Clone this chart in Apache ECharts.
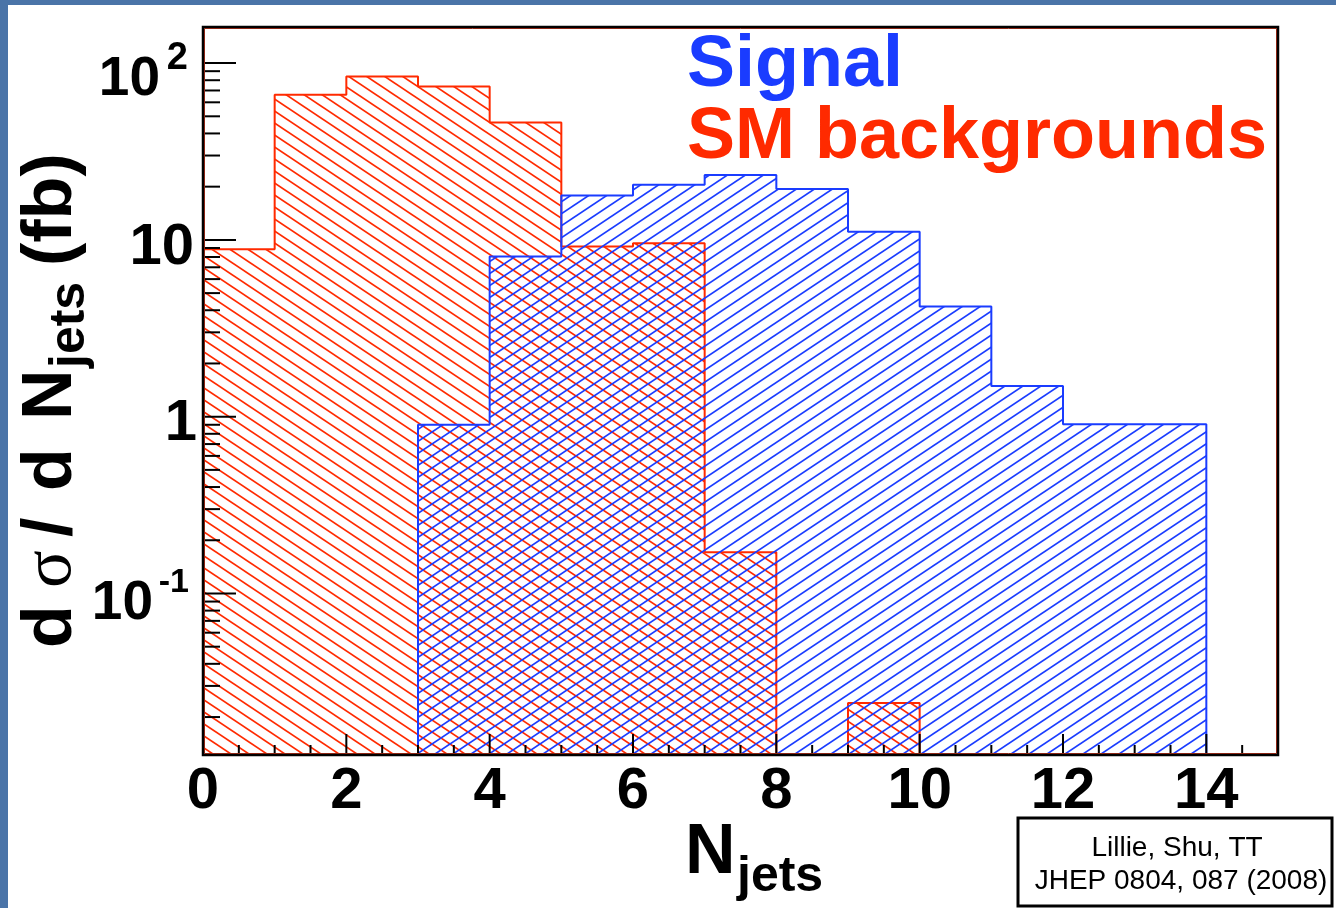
<!DOCTYPE html>
<html>
<head>
<meta charset="utf-8">
<script src="https://cdn.jsdelivr.net/npm/echarts@6/dist/echarts.min.js"></script>
<style>
html,body{margin:0;padding:0;background:#fff;}
#chart{width:1336px;height:908px;}
</style>
</head>
<body>
<div id="chart"></div>
<script>
// ---------------- data ----------------
const binEdges = [0,1,2,3,4,5,6,7,8,9,10,11,12,13,14,15];
const signalValues = [0, 0, 0, 0.90, 8.05, 17.8, 20.5, 23.3, 19.4, 11.1, 4.2, 1.49, 0.906, 0.906, 0];
const backgroundValues = [8.86, 66.2, 84.0, 73.8, 46.1, 9.17, 9.58, 0.171, 0, 0.024, 0, 0, 0, 0, 0];
const seriesNames = ['Signal', 'SM backgrounds'];

const xMajorTicks = [0, 2, 4, 6, 8, 10, 12, 14];
const xMinorTicks = [0.5, 1, 1.5, 2.5, 3, 3.5, 4.5, 5, 5.5, 6.5, 7, 7.5, 8.5, 9, 9.5, 10.5, 11, 11.5, 12.5, 13, 13.5, 14.5];
const yMajorTicks = [0.1, 1, 10, 100];
const yLabelBase = ['10', '1', '10', '10'];
const yLabelExp = ['-1', '', '', '2'];
const yMinorMantissas = [2, 3, 4, 5, 6, 7, 8, 9];
const yMinorDecades = [0.01, 0.1, 1, 10];

const xMin = 0, xMax = 15, yMin = 0.0122, yMax = 160;

// ---------------- styling ----------------
const BLUE = '#1a3cff';
const RED = '#ff2a00';
const FONT = "'Liberation Sans', Arial, Helvetica, sans-serif";
const GRID = {left: 203, top: 27, right: 58, bottom: 153};

function hatchCanvas(color, dir) {
  const W = 18, H = 12;
  const c = document.createElement('canvas');
  c.width = W; c.height = H;
  const ctx = c.getContext('2d');
  ctx.strokeStyle = color;
  ctx.lineWidth = 1.7;
  for (let k = -1; k <= 1; k++) {
    ctx.beginPath();
    if (dir > 0) {
      ctx.moveTo(-W, (k + 2) * H);
      ctx.lineTo(2 * W, (k - 1) * H);
    } else {
      ctx.moveTo(-W, (k - 1) * H);
      ctx.lineTo(2 * W, (k + 2) * H);
    }
    ctx.stroke();
  }
  return c;
}

function stepPoints(vals) {
  const floor = v => (v > 0 ? v : yMin);
  const pts = [[binEdges[0], yMin]];
  vals.forEach((v, i) => pts.push([binEdges[i], floor(v)]));
  const last = binEdges[binEdges.length - 1];
  pts.push([last, floor(vals[vals.length - 1])]);
  pts.push([last, yMin]);
  return pts;
}

const yMinorTicks = [];
yMinorDecades.forEach(d => yMinorMantissas.forEach(m => {
  const v = m * d;
  if (v > yMin && v < yMax) yMinorTicks.push(v);
}));

function histSeries(name, vals, color, dir, z) {
  return {
    name: name,
    type: 'line',
    step: 'end',
    data: stepPoints(vals),
    symbol: 'none',
    showSymbol: false,
    z: z,
    clip: true,
    lineStyle: {color: color, width: 2},
    itemStyle: {color: color},
    areaStyle: {color: {image: hatchCanvas(color, dir), repeat: 'repeat'}, origin: 'start', opacity: 1},
    animation: false
  };
}

function yTitle(text, y, opts) {
  opts = opts || {};
  return {
    type: 'text', x: opts.x || 52, y: y, rotation: Math.PI / 2, z: 160,
    style: {text: text, font: opts.font || ('bold 70px ' + FONT), fill: '#000', align: 'left', verticalAlign: 'middle'}
  };
}

const option = {
  animation: false,
  backgroundColor: '#ffffff',
  grid: GRID,
  xAxis: {
    type: 'value',
    min: xMin, max: xMax, interval: 2,
    axisLine: {show: false},
    axisTick: {show: false},
    splitLine: {show: false},
    axisLabel: {
      show: true,
      margin: 8,
      fontSize: 58,
      fontWeight: 'bold',
      fontFamily: FONT,
      color: '#000',
      formatter: v => (xMajorTicks.indexOf(v) >= 0 ? String(v) : '')
    }
  },
  yAxis: {
    type: 'log',
    logBase: 10,
    min: yMin, max: yMax,
    axisLine: {show: false},
    axisTick: {show: false},
    axisLabel: {show: false},
    splitLine: {show: false},
    minorTick: {show: false}
  },
  series: [
    histSeries(seriesNames[1], backgroundValues, RED, -1, 2),
    histSeries(seriesNames[0], signalValues, BLUE, 1, 3),
    // x ticks
    {
      type: 'custom',
      coordinateSystem: 'cartesian2d',
      silent: true, clip: false, z: 10,
      encode: {x: 0, y: 1},
      data: xMajorTicks.map(v => [v, yMin, 1]).concat(xMinorTicks.map(v => [v, yMin, 0])),
      renderItem: function (params, api) {
        const p = api.coord([api.value(0), yMin]);
        const len = api.value(2) ? 21 : 10;
        return {
          type: 'line',
          shape: {x1: p[0], y1: p[1], x2: p[0], y2: p[1] - len},
          style: {stroke: '#000', lineWidth: 2}
        };
      }
    },
    // y minor ticks
    {
      type: 'custom',
      coordinateSystem: 'cartesian2d',
      silent: true, clip: false, z: 10,
      encode: {x: 0, y: 1},
      data: yMinorTicks.map(v => [xMin, v]),
      renderItem: function (params, api) {
        const p = api.coord([xMin, api.value(1)]);
        return {
          type: 'line',
          shape: {x1: p[0], y1: p[1], x2: p[0] + 17, y2: p[1]},
          style: {stroke: '#000', lineWidth: 2}
        };
      }
    },
    // y major ticks + labels
    {
      type: 'custom',
      coordinateSystem: 'cartesian2d',
      silent: true, clip: false, z: 10,
      encode: {x: 0, y: 1},
      data: yMajorTicks.map(v => [xMin, v]),
      renderItem: function (params, api) {
        const i = params.dataIndex;
        const p = api.coord([xMin, api.value(1)]);
        const base = yLabelBase[i], exp = yLabelExp[i];
        const children = [{
          type: 'line',
          shape: {x1: p[0], y1: p[1], x2: p[0] + 33, y2: p[1]},
          style: {stroke: '#000', lineWidth: 2}
        }];
        let bx, by, ex = 0, ey = 0, bf = 58, ef = 38;
        if (exp === '') {
          bx = p[0] - (base === '1' ? 6 : 9);
          by = p[1] + (base === '1' ? 7 : 8);
        } else if (exp === '2') {
          bf = 55;
          bx = p[0] - 43; by = p[1] + 17; ex = p[0] - 15; ey = p[1] - 5;
        } else {
          bf = 55; ef = 34;
          bx = p[0] - 50; by = p[1] + 10; ex = p[0] - 14; ey = p[1] - 10.5;
        }
        children.push({
          type: 'text', x: bx, y: by,
          style: {text: base, font: 'bold ' + bf + 'px ' + FONT, fill: '#000', align: 'right', verticalAlign: 'middle'}
        });
        if (exp !== '') {
          children.push({
            type: 'text', x: ex, y: ey,
            style: {text: exp, font: 'bold ' + ef + 'px ' + FONT, fill: '#000', align: 'right', verticalAlign: 'middle'}
          });
        }
        return {type: 'group', children: children};
      }
    }
  ],
  graphic: [
    // slide frame
    {type: 'rect', shape: {x: 0, y: 0, width: 1336, height: 5}, style: {fill: '#4a74a8'}, z: 200},
    {type: 'rect', shape: {x: 0, y: 0, width: 8, height: 908}, style: {fill: '#4a74a8'}, z: 200},
    // plot frame
    {type: 'rect', shape: {x: GRID.left, y: GRID.top, width: 1336 - GRID.left - GRID.right, height: 908 - GRID.top - GRID.bottom},
      style: {fill: 'none', stroke: '#000', lineWidth: 2.5}, z: 150, silent: true},
    {type: 'rect', shape: {x: GRID.left + 1.5, y: GRID.top + 1.5, width: 1336 - GRID.left - GRID.right - 3, height: 908 - GRID.top - GRID.bottom - 3},
      style: {fill: 'none', stroke: '#b8321a', lineWidth: 1}, z: 149, silent: true},
    // legend texts
    {type: 'text', x: 687, y: 66, z: 160,
      style: {text: seriesNames[0], font: 'bold 72px ' + FONT, fill: BLUE, align: 'left', verticalAlign: 'middle'}},
    {type: 'text', x: 687, y: 138.5, z: 160,
      style: {text: seriesNames[1], font: 'bold 72px ' + FONT, fill: RED, align: 'left', verticalAlign: 'middle'}},
    // x title
    {type: 'text', x: 685, y: 854, z: 160,
      style: {text: 'N', font: 'bold 70px ' + FONT, fill: '#000', align: 'left', verticalAlign: 'middle'}},
    {type: 'text', x: 737, y: 877.5, z: 160,
      style: {text: 'jets', font: 'bold 50px ' + FONT, fill: '#000', align: 'left', verticalAlign: 'middle'}},
    // y title (rotated, reads upward)
    yTitle('d', 648),
    yTitle('σ', 588, {font: "70px 'Liberation Serif', 'DejaVu Serif', serif"}),
    yTitle('/', 537),
    yTitle('d', 491),
    yTitle('N', 420),
    yTitle('jets', 368, {x: 70.5, font: 'bold 50px ' + FONT}),
    yTitle('(fb)', 266),
    // citation box
    {type: 'rect', shape: {x: 1018, y: 818, width: 314, height: 88}, style: {fill: '#fff', stroke: '#000', lineWidth: 3}, z: 170},
    {type: 'text', x: 1177, y: 848, z: 171,
      style: {text: 'Lillie, Shu, TT', font: '28px ' + FONT, fill: '#000', align: 'center', verticalAlign: 'middle'}},
    {type: 'text', x: 1181, y: 881, z: 171,
      style: {text: 'JHEP 0804, 087 (2008)', font: '28px ' + FONT, fill: '#000', align: 'center', verticalAlign: 'middle'}}
  ]
};

const chart = echarts.init(document.getElementById('chart'), null, {renderer: 'canvas'});
chart.setOption(option);
</script>
</body>
</html>
